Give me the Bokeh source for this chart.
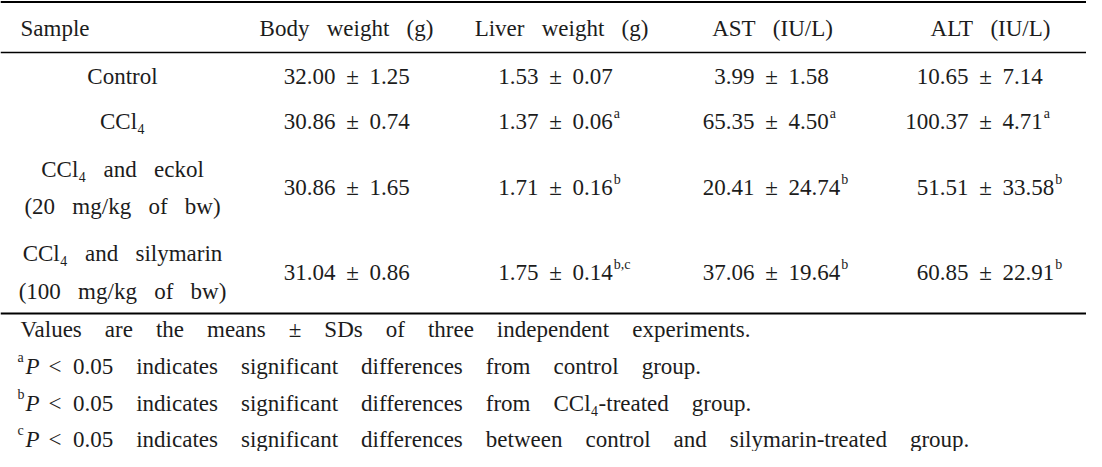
from bokeh.plotting import figure
from bokeh.models import Range1d
from bokeh.core.properties import value
from bokeh.embed import file_html
from bokeh.resources import INLINE

# ---------------- data ----------------
headers = ["Sample", "Body weight (g)", "Liver weight (g)", "AST (IU/L)", "ALT (IU/L)"]
sample_lines = [["Control"], ["CCl₄"], ["CCl₄ and eckol", "(20 mg/kg of bw)"],
                ["CCl₄ and silymarin", "(100 mg/kg of bw)"]]
body_mean = ["32.00", "30.86", "30.86", "31.04"]
body_sd = ["1.25", "0.74", "1.65", "0.86"]
body_sup = ["", "", "", ""]
liver_mean = ["1.53", "1.37", "1.71", "1.75"]
liver_sd = ["0.07", "0.06", "0.16", "0.14"]
liver_sup = ["", "a", "b", "b,c"]
ast_mean = ["3.99", "65.35", "20.41", "37.06"]
ast_sd = ["1.58", "4.50", "24.74", "19.64"]
ast_sup = ["", "a", "b", "b"]
alt_mean = ["10.65", "100.37", "51.51", "60.85"]
alt_sd = ["7.14", "4.71", "33.58", "22.91"]
alt_sup = ["", "a", "b", "b"]
note_marks = ["", "a", "b", "c"]
note_texts = [
    "Values are the means ± SDs of three independent experiments.",
    "< 0.05 indicates significant differences from control group.",
    "< 0.05 indicates significant differences from CCl₄-treated group.",
    "< 0.05 indicates significant differences between control and silymarin-treated group.",
]

# ---------------- layout ----------------
FONT = "Liberation Serif"
FS = 23
SUP_FS = 14
COLOR = "#1c1c1c"
W, H = 1086, 451
TABLE_SP = "\u00a0\u2002"   # wide word spacing as in the typeset table
NOTE_SP = "\u2003"

def wide(s, sp):
    return s.replace(" ", sp)

# text anchor positions (visual text lines)
header_x = [20, 346, 561, 772, 990]
header_y = 28
pm_x = [352, 555, 771, 985]
sample_x = 122
row_y = [76, 121, 187, 272]
two_line_y = {2: [169, 206], 3: [253, 291]}
note_y = [329, 366, 403, 439]
rule_y = [1.5, 52, 313]
rule_w = [2.2, 1.5, 2.2]

p = figure(width=W, height=H, x_range=Range1d(0, W), y_range=Range1d(H, 0),
           output_backend="svg", toolbar_location=None, x_axis_type=None, y_axis_type=None,
           min_border=0)
p.grid.visible = False
p.outline_line_color = None
p.background_fill_color = "white"
p.border_fill_color = "white"

def txt(xs, ys, texts, align="center", size=FS, style="normal"):
    p.text(x=xs, y=ys, text=texts, text_font=value(FONT), text_font_size=value(f"{size}px"),
           text_align=align, text_baseline="alphabetic", text_color=COLOR,
           text_font_style=style)

# rules
for y, w in zip(rule_y, rule_w):
    p.segment(x0=[0], x1=[1102], y0=[y], y1=[y], line_color="black", line_width=w)

# headers
txt([header_x[0]], [header_y], [headers[0]], align="left")
txt(header_x[1:], [header_y] * 4, [wide(h, TABLE_SP) for h in headers[1:]])

# sample column
for i, lines in enumerate(sample_lines):
    if len(lines) == 1:
        txt([sample_x], [row_y[i]], lines)
    else:
        txt([sample_x] * 2, two_line_y[i], [wide(s, TABLE_SP) for s in lines])

def sd_width(s):
    return sum(FS * 0.5 if ch.isdigit() else FS * 0.25 for ch in s)

cols = [(body_mean, body_sd, body_sup), (liver_mean, liver_sd, liver_sup),
        (ast_mean, ast_sd, ast_sup), (alt_mean, alt_sd, alt_sup)]
for c, (means, sds, sups) in enumerate(cols):
    x0 = pm_x[c]
    txt([x0 - 17] * 4, row_y, means, align="right")
    txt([x0] * 4, row_y, ["±"] * 4)
    txt([x0 + 17] * 4, row_y, sds, align="left")
    sx = [x0 + 18 + sd_width(s) for s in sds]
    sy = [b - 8 for b in row_y]
    txt(sx, sy, sups, align="left", size=SUP_FS)

# notes
txt([20], [note_y[0]], [wide(note_texts[0], NOTE_SP)], align="left")
txt([17] * 3, [b - 9 for b in note_y[1:]], note_marks[1:], align="left", size=SUP_FS)
txt([25] * 3, note_y[1:], ["P"] * 3, align="left", style="italic")
tails = []
for t in note_texts[1:]:
    first, rest = t.split(" ", 1)
    tails.append(first + "\u2002" + wide(rest, NOTE_SP))
txt([48] * 3, note_y[1:], tails, align="left")

open("out.html", "w").write(file_html(p, INLINE))
